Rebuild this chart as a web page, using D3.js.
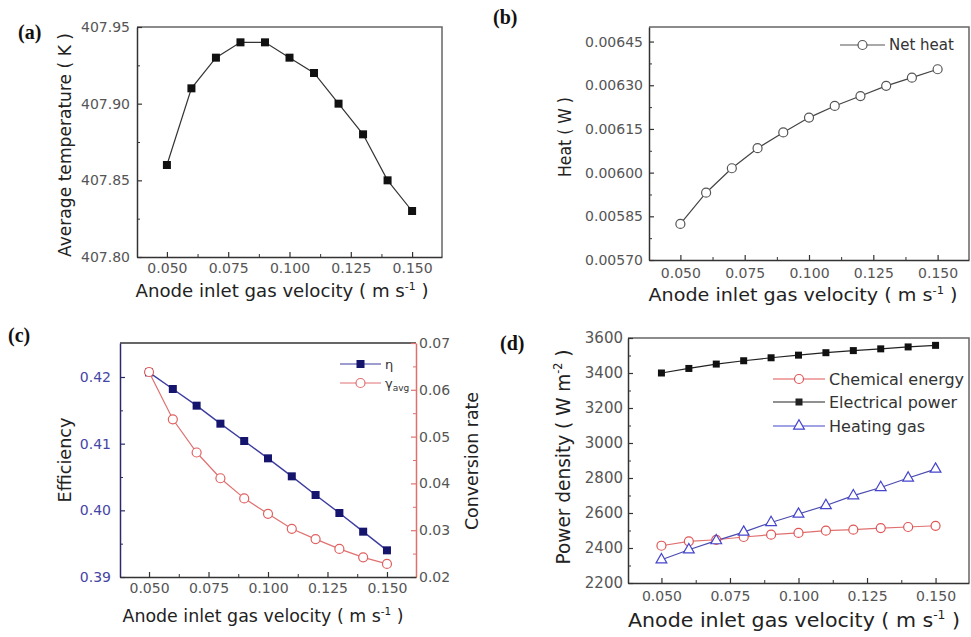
<!DOCTYPE html>
<html>
<head>
<meta charset="utf-8">
<script src="https://cdnjs.cloudflare.com/ajax/libs/d3/7.8.5/d3.min.js"></script>
<style>
  body { margin: 0; background: #fff; }
  svg { display: block; }
</style>
</head>
<body>
<div id="chart"></div>
<script>
// values
var velocity = [0.05, 0.06, 0.07, 0.08, 0.09, 0.10, 0.11, 0.12, 0.13, 0.14, 0.15];
var avgTemp = [407.86, 407.91, 407.93, 407.94, 407.94, 407.93, 407.92, 407.90, 407.88, 407.85, 407.83];
var netHeat = [0.005824, 0.005931, 0.006015, 0.006084, 0.006138, 0.006189, 0.006229, 0.006263, 0.006298, 0.006326, 0.006355];
var efficiency = [0.4207, 0.4182, 0.4157, 0.4130, 0.4104, 0.4078, 0.4051, 0.4023, 0.3996, 0.3968, 0.3940];
var conversion = [0.0638, 0.0537, 0.0466, 0.0411, 0.0368, 0.0335, 0.0303, 0.0281, 0.0260, 0.0242, 0.0228];
var chemEnergy = [2413, 2438, 2447, 2463, 2476, 2486, 2499, 2505, 2514, 2520, 2527];
var elecPower = [3400, 3426, 3451, 3470, 3487, 3502, 3516, 3528, 3538, 3549, 3558];
var heatingGas = [2333, 2390, 2442, 2491, 2546, 2594, 2643, 2699, 2746, 2800, 2851];

var xTicks = [0.050, 0.075, 0.100, 0.125, 0.150];
var xMinor = [0.0625, 0.0875, 0.1125, 0.1375];
var tempTicks = [407.80, 407.85, 407.90, 407.95];
var tempMinor = [407.825, 407.875, 407.925];
var heatTicks = [0.00570, 0.00585, 0.00600, 0.00615, 0.00630, 0.00645];
var heatMinor = [0.005775, 0.005925, 0.006075, 0.006225, 0.006375];
var effTicks = [0.39, 0.40, 0.41, 0.42];
var effMinor = [0.395, 0.405, 0.415];
var convTicks = [0.02, 0.03, 0.04, 0.05, 0.06, 0.07];
var convMinor = [0.025, 0.035, 0.045, 0.055, 0.065];
var powerTicks = [2200, 2400, 2600, 2800, 3000, 3200, 3400, 3600];
var powerMinor = [2300, 2500, 2700, 2900, 3100, 3300, 3500];

var xDomain = [0.0378, 0.1622];
var sans = "DejaVu Sans, sans-serif";

var svg = d3.select("#chart").append("svg")
    .attr("width", 971)
    .attr("height", 637);

function pts(ys) {
    return velocity.map(function(v, i) { return {x: v, y: ys[i]}; });
}

function addAxis(side, scale, major, minor, fmt, at, o) {
    var gen = {left: d3.axisLeft, right: d3.axisRight, bottom: d3.axisBottom}[side];
    var tr = side === "bottom" ? "translate(0," + at + ")" : "translate(" + at + ",0)";
    var g = svg.append("g")
        .attr("transform", tr)
        .call(gen(scale).tickValues(major).tickFormat(d3.format(fmt))
            .tickSizeInner(-5).tickSizeOuter(0).tickPadding(o.pad));
    var gm = svg.append("g")
        .attr("transform", tr)
        .call(gen(scale).tickValues(minor).tickFormat("")
            .tickSizeInner(-3).tickSizeOuter(0));
    gm.select(".domain").remove();
    g.attr("font-family", sans).attr("font-size", o.size);
    g.select(".domain").attr("stroke", o.line).attr("stroke-width", 1.5);
    g.selectAll(".tick line").attr("stroke", o.line).attr("stroke-width", 1.2);
    gm.selectAll(".tick line").attr("stroke", o.line).attr("stroke-width", 1);
    g.selectAll(".tick text").attr("fill", o.text);
}

function frame(b, col) {
    svg.append("path")
        .attr("d", "M" + b.left + "," + b.top + "H" + b.right + "V" + b.bottom)
        .attr("fill", "none")
        .attr("stroke", col || "#666")
        .attr("stroke-width", 1.5);
}

// text with optional superscript, stretched to the width measured on the figure
function title(cx, cy, rotate, len, size, main, sup, tail) {
    var t = svg.append("text")
        .attr("font-family", sans)
        .attr("font-size", size)
        .attr("fill", "#222")
        .attr("text-anchor", "middle")
        .attr("dy", "0.35em")
        .attr("textLength", len)
        .attr("lengthAdjust", "spacingAndGlyphs");
    if (rotate) {
        t.attr("transform", "rotate(-90)").attr("x", -cy).attr("y", cx);
    } else {
        t.attr("x", cx).attr("y", cy);
    }
    t.append("tspan").text(main);
    if (sup) {
        t.append("tspan").attr("dy", -size * 0.4).attr("font-size", size * 0.6).text(sup);
        t.append("tspan").attr("dy", size * 0.4).text(tail);
    }
    return t;
}

function panelLabel(x, y, s) {
    svg.append("text")
        .attr("x", x).attr("y", y)
        .attr("font-family", "Liberation Serif, serif")
        .attr("font-weight", "bold")
        .attr("font-size", 20)
        .attr("fill", "#111")
        .text(s);
}

function drawLine(x, y, data, col, w) {
    var line = d3.line().x(function(d) { return x(d.x); }).y(function(d) { return y(d.y); });
    svg.append("path")
        .datum(data)
        .attr("d", line)
        .attr("fill", "none")
        .attr("stroke", col)
        .attr("stroke-width", w || 1.2);
}

function squares(x, y, data, s, fill) {
    svg.append("g").selectAll("rect")
        .data(data).enter().append("rect")
        .attr("x", function(d) { return x(d.x) - s / 2; })
        .attr("y", function(d) { return y(d.y) - s / 2; })
        .attr("width", s).attr("height", s)
        .attr("fill", fill);
}

function circles(x, y, data, r, col) {
    svg.append("g").selectAll("circle")
        .data(data).enter().append("circle")
        .attr("cx", function(d) { return x(d.x); })
        .attr("cy", function(d) { return y(d.y); })
        .attr("r", r)
        .attr("fill", "#fff")
        .attr("stroke", col)
        .attr("stroke-width", 1.2);
}

function triangles(x, y, data, size, col) {
    svg.append("g").selectAll("path")
        .data(data).enter().append("path")
        .attr("d", d3.symbol(d3.symbolTriangle, size))
        .attr("transform", function(d) { return "translate(" + x(d.x) + "," + y(d.y) + ")"; })
        .attr("fill", "#fff")
        .attr("stroke", col)
        .attr("stroke-width", 1.2);
}

function legendRow(x0, x1, y, label, col, marker, size, fs, fill) {
    svg.append("line").attr("x1", x0).attr("x2", x1).attr("y1", y).attr("y2", y)
        .attr("stroke", col).attr("stroke-width", 1.2);
    var mx = (x0 + x1) / 2;
    if (marker === "square") {
        svg.append("rect").attr("x", mx - size / 2).attr("y", y - size / 2)
            .attr("width", size).attr("height", size).attr("fill", fill || col);
    } else if (marker === "circle") {
        svg.append("circle").attr("cx", mx).attr("cy", y).attr("r", size)
            .attr("fill", "#fff").attr("stroke", col).attr("stroke-width", 1.2);
    } else {
        svg.append("path").attr("d", d3.symbol(d3.symbolTriangle, size))
            .attr("transform", "translate(" + mx + "," + y + ")")
            .attr("fill", "#fff").attr("stroke", col).attr("stroke-width", 1.2);
    }
    return svg.append("text")
        .attr("x", x1 + 4).attr("y", y).attr("dy", "0.35em")
        .attr("font-family", sans).attr("font-size", fs)
        .attr("fill", "#333")
        .text(label);
}

// ---------- (a) average temperature ----------
var boxA = {left: 137, top: 27, right: 442, bottom: 257};
var xA = d3.scaleLinear().domain(xDomain).range([boxA.left, boxA.right]);
var yA = d3.scaleLinear().domain([407.80, 407.95]).range([boxA.bottom, boxA.top]);
frame(boxA);
addAxis("left", yA, tempTicks, tempMinor, ".2f", boxA.left, {pad: 7, size: 14, line: "#333", text: "#555"});
addAxis("bottom", xA, xTicks, xMinor, ".3f", boxA.bottom, {pad: 6, size: 14, line: "#333", text: "#555"});
drawLine(xA, yA, pts(avgTemp), "#333", 1.2);
squares(xA, yA, pts(avgTemp), 8, "#111");
title(65, 145, true, 224, 18, "Average temperature ( K )");
title(282, 291, false, 293, 18, "Anode inlet gas velocity ( m s", "-1", " )");
panelLabel(18, 39, "(a)");

// ---------- (b) net heat ----------
var boxB = {left: 649, top: 27, right: 969, bottom: 260};
var xB = d3.scaleLinear().domain(xDomain).range([boxB.left, boxB.right]);
var yB = d3.scaleLinear().domain([0.0057, 0.0065]).range([boxB.bottom, boxB.top]);
frame(boxB);
addAxis("left", yB, heatTicks, heatMinor, ".5f", boxB.left, {pad: 6, size: 14, line: "#333", text: "#555"});
addAxis("bottom", xB, xTicks, xMinor, ".3f", boxB.bottom, {pad: 8, size: 14, line: "#333", text: "#555"});
drawLine(xB, yB, pts(netHeat), "#444", 1.2);
circles(xB, yB, pts(netHeat), 4.5, "#555");
legendRow(840, 885, 45, "Net heat", "#555", "circle", 4.5, 15);
title(565, 137, true, 80, 18, "Heat ( W )");
title(803, 295, false, 309, 18, "Anode inlet gas velocity ( m s", "-1", " )");
panelLabel(493, 24, "(b)");

// ---------- (c) efficiency and conversion rate ----------
var boxC = {left: 120, top: 343, right: 416, bottom: 577};
var xC = d3.scaleLinear().domain(xDomain).range([boxC.left, boxC.right]);
var yC = d3.scaleLinear().domain([0.39, 0.4251]).range([boxC.bottom, boxC.top]);
var yC2 = d3.scaleLinear().domain([0.02, 0.07]).range([boxC.bottom, boxC.top]);
svg.append("line").attr("x1", boxC.left).attr("x2", boxC.right).attr("y1", boxC.top).attr("y2", boxC.top)
    .attr("stroke", "#333").attr("stroke-width", 1.5);
addAxis("left", yC, effTicks, effMinor, ".2f", boxC.left, {pad: 9, size: 14, line: "#2a2a6a", text: "#4545a5"});
addAxis("right", yC2, convTicks, convMinor, ".2f", boxC.right, {pad: 3, size: 14, line: "#e07070", text: "#555"});
addAxis("bottom", xC, xTicks, xMinor, ".3f", boxC.bottom, {pad: 6, size: 14, line: "#333", text: "#555"});
drawLine(xC, yC, pts(efficiency), "#3c3ca0", 1.4);
squares(xC, yC, pts(efficiency), 8, "#15156e");
drawLine(xC, yC2, pts(conversion), "#e07070", 1.2);
circles(xC, yC2, pts(conversion), 4.5, "#e06060");
legendRow(340, 381, 364, "η", "#3c3ca0", "square", 8, 13, "#15156e");
var gl = legendRow(340, 381, 383, "γ", "#e07070", "circle", 4.5, 13);
gl.append("tspan").attr("dy", 3).attr("font-size", 9).text("avg");
title(65, 460, true, 85, 18, "Efficiency");
title(472, 461, true, 138, 18, "Conversion rate");
title(263, 616, false, 281, 17, "Anode inlet gas velocity ( m s", "-1", " )");
panelLabel(8, 342, "(c)");

// ---------- (d) power density ----------
var boxD = {left: 628, top: 338, right: 969, bottom: 583};
var xD = d3.scaleLinear().domain(xDomain).range([boxD.left, boxD.right]);
var yD = d3.scaleLinear().domain([2200, 3600]).range([boxD.bottom, boxD.top]);
frame(boxD);
addAxis("left", yD, powerTicks, powerMinor, "d", boxD.left, {pad: 5, size: 15, line: "#333", text: "#555"});
addAxis("bottom", xD, xTicks, xMinor, ".3f", boxD.bottom, {pad: 8, size: 14, line: "#333", text: "#555"});
drawLine(xD, yD, pts(chemEnergy), "#e07070", 1.2);
drawLine(xD, yD, pts(elecPower), "#222", 1.2);
drawLine(xD, yD, pts(heatingGas), "#4a4ab0", 1.2);
circles(xD, yD, pts(chemEnergy), 4.5, "#e05555");
squares(xD, yD, pts(elecPower), 7, "#111");
triangles(xD, yD, pts(heatingGas), 50, "#4444cc");
legendRow(773, 825, 379, "Chemical energy", "#e05555", "circle", 4.5, 16);
legendRow(773, 825, 402, "Electrical power", "#222", "square", 7, 16);
legendRow(773, 825, 426, "Heating gas", "#4444cc", "triangle", 50, 16);
title(563, 457, true, 215, 19, "Power density ( W m", "-2", " )");
title(794, 620, false, 332, 19, "Anode inlet gas velocity ( m s", "-1", " )");
panelLabel(500, 350, "(d)");
</script>
</body>
</html>
